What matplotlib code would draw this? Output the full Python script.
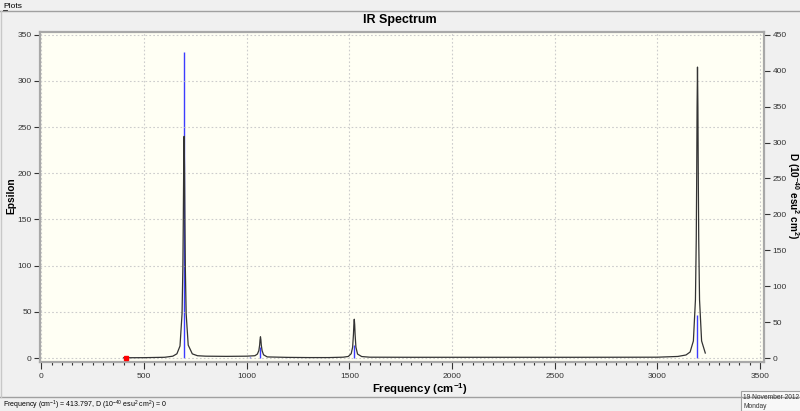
import matplotlib
matplotlib.use("Agg")
import matplotlib.pyplot as plt
from matplotlib.lines import Line2D
from matplotlib.patches import Rectangle

# ---------------- data ----------------
curve_freq = [400, 500, 600, 640, 660, 675, 685, 689, 691, 693, 695, 697, 699, 701,
              705, 715, 735, 760, 800, 900, 1000, 1040, 1052, 1059, 1063, 1065, 1067,
              1069, 1071, 1075, 1082, 1100, 1200, 1300, 1400, 1470, 1495, 1509, 1516,
              1520, 1522, 1524, 1526, 1528, 1532, 1540, 1560, 1600, 1800, 2200, 2600,
              3000, 3100, 3140, 3160, 3176, 3186, 3190, 3192, 3194, 3196, 3198, 3200,
              3202, 3206, 3216, 3234]
curve_eps = [0.3, 0.4, 0.8, 2.0, 4.6, 13, 48, 98, 146, 207, 240, 207, 146, 98,
             48, 14, 4.5, 2.5, 2.0, 1.8, 2.0, 2.5, 4.3, 8, 14, 19.8, 23,
             19.8, 14, 8, 3.5, 1.2, 0.7, 0.5, 0.5, 0.9, 1.7, 4.7, 11.8,
             25.6, 36.2, 42, 36.2, 25.6, 11.8, 4.3, 1.6, 0.9, 0.8, 0.8, 0.8,
             0.9, 1.7, 3.3, 6.5, 18.5, 63, 129, 192, 272, 315, 272, 192,
             129, 63, 18.5, 5.4]

stick_freq = [695, 1015, 1067, 1190, 1524, 3196]
stick_D = [426, 1.5, 16, 1.5, 18, 60]

cursor_freq = 413.797
cursor_D = 0

x_ticks = [0, 500, 1000, 1500, 2000, 2500, 3000, 3500]
eps_ticks = [0, 50, 100, 150, 200, 250, 300, 350]
d_ticks = [0, 50, 100, 150, 200, 250, 300, 350, 400, 450]

# ---------------- figure ----------------
W, H = 800, 411
fig = plt.figure(figsize=(W / 100, H / 100), dpi=100, facecolor="#F0F0F0")
plt.rcParams["font.family"] = ["Liberation Sans", "DejaVu Sans"]

def fx(px):
    return px / W

def fy(py):
    return 1 - py / H

# window chrome
fig.text(fx(3), fy(6), "Plots", fontsize=6, va="center", ha="left", color="#000000")
fig.add_artist(Line2D([fx(3), fx(7)], [fy(10), fy(10)], color="#000000", lw=0.6))
fig.add_artist(Line2D([0, 1], [fy(11), fy(11)], color="#A0A0A0", lw=1))
fig.add_artist(Line2D([0, 1], [fy(397), fy(397)], color="#A0A0A0", lw=1))
fig.add_artist(Line2D([fx(1), fx(1)], [fy(11), fy(397)], color="#C8C8C8", lw=1))

# plot area
left, right, top, bottom = 40, 764, 32, 362
ax = fig.add_axes([fx(left), fy(bottom), fx(right - left), (bottom - top) / H])
ax.set_xlim(-7, 3520)
ax.set_ylim(-4.3, 353)
for s in ax.spines.values():
    s.set_color("#A8A8A8")
    s.set_linewidth(1.6)

ax.set_xticks(x_ticks)
ax.set_xticks(list(range(0, 3501, 50)), minor=True)
ax.set_yticks(eps_ticks)
ax.tick_params(axis="both", which="major", labelsize=6, colors="#333333",
               direction="out", length=4, width=0.8, pad=2)
ax.tick_params(axis="x", which="minor", direction="out", length=2.5, width=0.8,
               colors="#333333")
ax.tick_params(axis="x", which="major", length=5, pad=3)
ax.grid(True, which="major", color="#CCCCCC", linestyle=(0, (1.5, 2)), linewidth=0.8)
ax.set_axisbelow(True)

ax2 = ax.twinx()
ax2.set_ylim(-4.3 * 450 / 350, 353 * 450 / 350)
ax2.set_yticks(d_ticks)
ax2.tick_params(axis="y", labelsize=6, colors="#333333", direction="out",
                length=4, width=0.8, pad=2)
for s in ax2.spines.values():
    s.set_visible(False)

# sticks (D, right axis)
ax2.vlines(stick_freq, 0, stick_D, color="#3C3CFF", lw=1.0, zorder=2)
# broadened spectrum (epsilon, left axis)
ax.plot(curve_freq, curve_eps, color="#333333", lw=0.9, zorder=3)
ax.set_zorder(ax2.get_zorder() + 1)
ax.patch.set_visible(False)
ax2.patch.set_visible(True)
ax2.patch.set_facecolor("#FFFFF4")
ax.plot([cursor_freq], [cursor_D], marker="s", color="#FF0000", markersize=3,
        zorder=5, clip_on=False)

# labels
fig.text(0.5, fy(20), "IR Spectrum", fontsize=9, fontweight="bold",
         ha="center", va="center")
fig.text(fx(420), fy(389), "Frequency (cm$^{\\mathregular{-1}}$)", fontsize=8.2,
         fontweight="bold", ha="center", va="center")
fig.text(fx(11), fy(196), "Epsilon", fontsize=7.3, fontweight="bold",
         ha="center", va="center", rotation=90)
fig.text(fx(793), fy(196), "D (10$^{\\mathregular{-40}}$ esu$^{\\mathregular{2}}$ cm$^{\\mathregular{2}}$)",
         fontsize=7.2, fontweight="bold", ha="center", va="center", rotation=-90)

# status bar
fig.text(fx(3), fy(405), "Frequency (cm$^{\\mathregular{-1}}$) = 413.797, D (10$^{\\mathregular{-40}}$ esu$^{\\mathregular{2}}$ cm$^{\\mathregular{2}}$) = 0",
         fontsize=5, ha="left", va="center", color="#000000")
fig.add_artist(Rectangle((fx(741), fy(411)), fx(60), (411 - 391) / H,
                         facecolor="#F8F8F8", edgecolor="#A0A0A0", lw=0.8))
fig.text(fx(743), fy(397), "19 November 2012", fontsize=4.8, ha="left",
         va="center", color="#333333")
fig.text(fx(743), fy(406), "Monday", fontsize=4.8, ha="left", va="center",
         color="#333333")

fig.savefig("out.png", dpi=100, facecolor=fig.get_facecolor())
